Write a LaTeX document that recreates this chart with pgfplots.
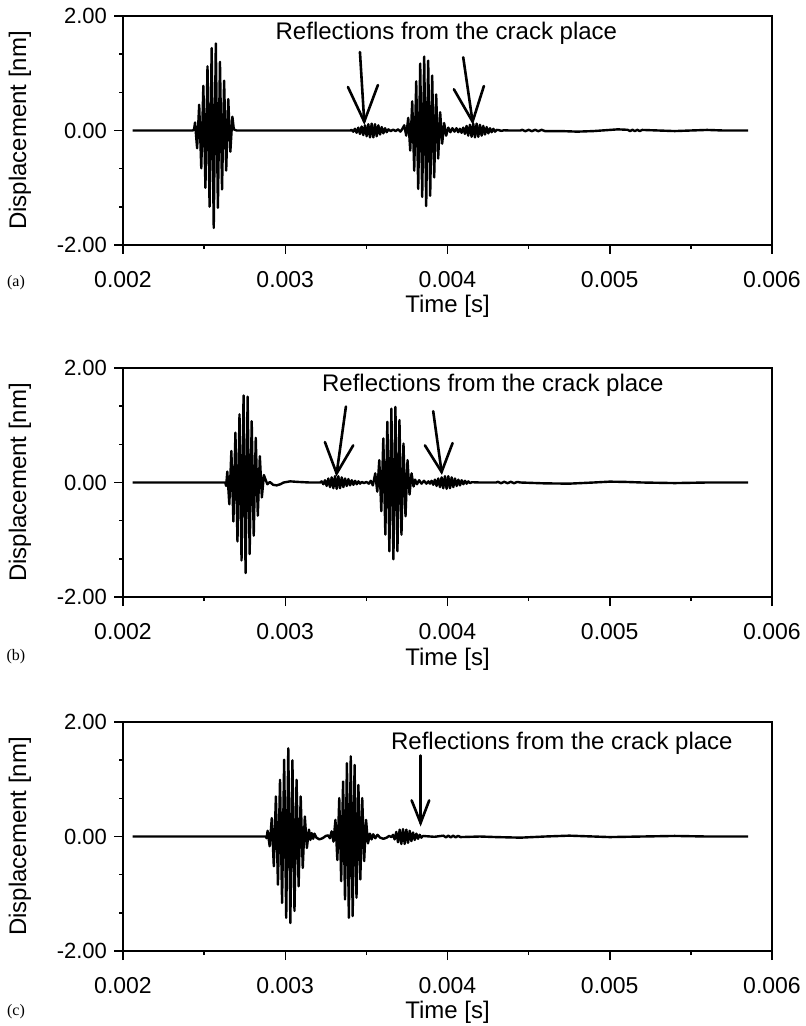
\documentclass[border=0pt]{standalone}
\usepackage{fontspec}
\setmainfont{Liberation Sans}
\newfontfamily\panelfont{Liberation Serif}
\usepackage{pgfplots}
\pgfplotsset{compat=1.18}

\newcommand\labfont{\fontsize{12}{14}\selectfont}
\newcommand\xtfont{\fontsize{11.5}{13}\selectfont}
\newcommand\ytfont{\fontsize{11}{13}\selectfont}

\pgfplotsset{
  panel/.style={
    scale only axis, width=324.5pt, height=114.5pt,
    xmin=0.002, xmax=0.006, ymin=-2, ymax=2,
    xtick={0.002,0.003,0.004,0.005,0.006},
    xticklabels={0.002,0.003,0.004,0.005,0.006},
    minor xtick={0.0025,0.0035,0.0045,0.0055},
    ytick={-2,0,2}, yticklabels={-2.00,0.00,2.00},
    minor ytick={-1.3333,-0.6667,0.6667,1.3333},
    scaled x ticks=false, scaled y ticks=false,
    tick align=outside, xtick pos=left, ytick pos=left,
    major tick length=4.5pt, minor tick length=2pt,
    axis line style={line width=0.75pt},
    every tick/.style={black, line width=0.75pt},
    xticklabel style={font=\xtfont, yshift=-5pt},
    yticklabel style={font=\ytfont},
    clip=false,
  },
  sig/.style={black, line width=1.2pt, line join=round, mark=none},
}
\tikzset{arr/.style={black, line width=1.3pt, line cap=round}}

\begin{document}
\begin{tikzpicture}
% ---------- (a)
\begin{axis}[panel, name=pa, at={(0,0)}]
\addplot[sig] coordinates {
(0.002060,0) (0.002430,0) (0.002438,0.02)
(0.0024440,0.14) (0.0024568,-0.31) (0.0024696,0.45) (0.0024824,-0.66) (0.0024952,0.78)
(0.0025080,-1.00) (0.0025208,1.12) (0.0025336,-1.33) (0.0025464,1.44) (0.0025592,-1.70)
(0.0025720,1.52) (0.0025848,-1.35) (0.0025976,1.20) (0.0026104,-1.03) (0.0026232,0.87)
(0.0026360,-0.70) (0.0026488,0.55) (0.0026616,-0.37) (0.0026744,0.24)
(0.0026830,0.02) (0.0027000,0) (0.0034000,0)
(0.0034090,0.01) (0.0034193,-0.02) (0.0034296,0.03) (0.0034399,-0.04) (0.0034502,0.05)
(0.0034605,-0.06) (0.0034708,0.07) (0.0034811,-0.08) (0.0034914,0.09) (0.0035017,-0.10)
(0.0035120,0.11) (0.0035223,-0.12) (0.0035326,0.12) (0.0035429,-0.12) (0.0035532,0.11)
(0.0035635,-0.10) (0.0035738,0.09) (0.0035841,-0.07) (0.0035944,0.06) (0.0036047,-0.05)
(0.0036150,0.04) (0.0036253,-0.03) (0.0036356,0.02)
(0.003650,-0.01) (0.003665,0.015) (0.003680,-0.01) (0.003695,0.02) (0.003710,-0.02) (0.003722,0.03)
(0.0037334,0.09) (0.0037457,-0.09) (0.0037580,0.22) (0.0037703,-0.35) (0.0037826,0.51)
(0.0037949,-0.70) (0.0038072,0.86) (0.0038195,-1.02) (0.0038318,1.17) (0.0038441,-1.16)
(0.0038564,1.29) (0.0038687,-1.32) (0.0038810,1.22) (0.0038933,-1.14) (0.0039056,0.96)
(0.0039179,-0.82) (0.0039302,0.63) (0.0039425,-0.49) (0.0039548,0.32) (0.0039671,-0.23)
(0.0039794,0.13) (0.0039917,-0.09)
(0.004005,0.05) (0.004018,-0.03) (0.004030,0.04) (0.004043,-0.02) (0.004055,0.04) (0.004066,-0.03)
(0.0040764,0.03) (0.0040867,-0.04) (0.0040970,0.05) (0.0041073,-0.06) (0.0041176,0.08)
(0.0041279,-0.09) (0.0041382,0.10) (0.0041485,-0.11) (0.0041588,0.12) (0.0041691,-0.12)
(0.0041794,0.12) (0.0041897,-0.11) (0.0042000,0.10) (0.0042103,-0.09) (0.0042206,0.08)
(0.0042309,-0.07) (0.0042412,0.06) (0.0042515,-0.05) (0.0042618,0.04) (0.0042721,-0.03)
(0.0042824,0.03) (0.0042927,-0.02) (0.0043030,0.01)
(0.004315,0.008) (0.004330,-0.006) (0.004350,0.004) (0.004380,0) (0.004450,0)
(0.004460,0.012) (0.004480,-0.012) (0.004500,0.012) (0.004520,-0.012) (0.004540,0.012)
(0.004560,-0.012) (0.004580,0.012) (0.004600,-0.01) (0.004700,-0.01) (0.004800,-0.02)
(0.004900,-0.01) (0.005000,0.01) (0.005050,0.02) (0.005110,0.012) (0.005125,-0.01)
(0.005140,0.012) (0.005155,-0.01) (0.005170,0.012) (0.005185,-0.01) (0.005200,0.01)
(0.005300,0) (0.005400,-0.01) (0.005500,0) (0.005600,0.01) (0.005700,0) (0.005853,0)
};
\node[font=\labfont] at (axis cs:0.0039932,1.70) {Reflections from the crack place};
\draw[arr] (axis cs:0.0034603,1.371) -- (axis cs:0.0034868,0.154);
\draw[arr] (axis cs:0.0033863,0.760) -- (axis cs:0.0034868,0.154) -- (axis cs:0.0035712,0.795);
\draw[arr] (axis cs:0.0040968,1.279) -- (axis cs:0.0041546,0.154);
\draw[arr] (axis cs:0.0040394,0.720) -- (axis cs:0.0041546,0.154) -- (axis cs:0.0042243,0.777);
\end{axis}
\node[rotate=90,font=\labfont] at ([xshift=-51.5pt]pa.west) {Displacement [nm]};
\node[font=\labfont] at ([yshift=-30.5pt]pa.south) {Time [s]};
\node[font=\panelfont\fontsize{8}{10}\selectfont] at ([xshift=-53.5pt,yshift=-19pt]pa.south west) {(a)};

% ---------- (b)
\begin{axis}[panel, name=pb, at={(0,-176pt)}]
\addplot[sig] coordinates {
(0.002060,0) (0.002630,0) (0.0026360,-0.06)
(0.0026428,0.19) (0.0026553,-0.38) (0.0026679,0.55) (0.0026804,-0.68) (0.0026929,0.87)
(0.0027055,-1.03) (0.0027180,1.19) (0.0027305,-1.36) (0.0027430,1.52) (0.0027556,-1.58)
(0.0027681,1.50) (0.0027806,-1.25) (0.0027932,1.07) (0.0028057,-0.93) (0.0028182,0.78)
(0.0028308,-0.58) (0.0028433,0.46) (0.0028558,-0.26) (0.0028683,0.13)
(0.002880,0.04) (0.002890,-0.03) (0.002905,0.01) (0.002925,-0.04) (0.002947,-0.05)
(0.002970,-0.03) (0.002990,0) (0.003030,0.02) (0.003080,0.01) (0.003150,0) (0.003215,0)
(0.0032243,0.02) (0.0032346,-0.03) (0.0032449,0.04) (0.0032552,-0.06) (0.0032655,0.07)
(0.0032758,-0.08) (0.0032861,0.09) (0.0032964,-0.10) (0.0033067,0.11) (0.0033170,-0.11)
(0.0033273,0.11) (0.0033376,-0.10) (0.0033479,0.09) (0.0033582,-0.08) (0.0033685,0.07)
(0.0033788,-0.06) (0.0033891,0.06) (0.0033994,-0.05) (0.0034097,0.04) (0.0034200,-0.04)
(0.0034303,0.03) (0.0034406,-0.03) (0.0034509,0.02) (0.0034612,-0.02) (0.0034715,0.01)
(0.003485,-0.01) (0.003500,0.01) (0.003515,-0.02) (0.003527,0.03) (0.003540,-0.05)
(0.0035547,0.16) (0.0035671,-0.16) (0.0035796,0.39) (0.0035920,-0.50) (0.0036044,0.77)
(0.0036169,-0.91) (0.0036293,1.06) (0.0036417,-1.20) (0.0036541,1.29) (0.0036666,-1.34)
(0.0036790,1.32) (0.0036914,-1.20) (0.0037039,1.09) (0.0037163,-0.91) (0.0037287,0.68)
(0.0037412,-0.59) (0.0037536,0.39) (0.0037660,-0.21) (0.0037784,0.16) (0.0037909,-0.07)
(0.003800,0.05) (0.003812,-0.03) (0.003825,0.04) (0.003840,-0.02) (0.003855,0.03)
(0.003870,-0.02) (0.003882,0.02)
(0.0038916,-0.02) (0.0039019,0.03) (0.0039122,-0.04) (0.0039225,0.05) (0.0039328,-0.06)
(0.0039431,0.07) (0.0039534,-0.08) (0.0039637,0.09) (0.0039740,-0.10) (0.0039843,0.11)
(0.0039946,-0.11) (0.0040049,0.11) (0.0040152,-0.10) (0.0040255,0.09) (0.0040358,-0.08)
(0.0040461,0.07) (0.0040564,-0.06) (0.0040667,0.05) (0.0040770,-0.05) (0.0040873,0.04)
(0.0040976,-0.03) (0.0041079,0.03) (0.0041182,-0.02) (0.0041285,0.02) (0.0041388,-0.01)
(0.004150,0.005) (0.004200,0) (0.004300,0)
(0.004310,0.012) (0.004330,-0.012) (0.004350,0.012) (0.004370,-0.012) (0.004390,0.012)
(0.004410,-0.012) (0.004430,0.01) (0.004450,0) (0.004600,-0.015) (0.004750,-0.02)
(0.004900,0) (0.005000,0.015) (0.005100,0.01) (0.005200,0) (0.005400,-0.01)
(0.005600,0) (0.005853,0)
};
\node[font=\labfont] at (axis cs:0.0042797,1.69) {Reflections from the crack place};
\draw[arr] (axis cs:0.0033740,1.327) -- (axis cs:0.0033167,0.157);
\draw[arr] (axis cs:0.0032446,0.706) -- (axis cs:0.0033167,0.157) -- (axis cs:0.0034190,0.649);
\draw[arr] (axis cs:0.0039119,1.245) -- (axis cs:0.0039636,0.184);
\draw[arr] (axis cs:0.0038607,0.649) -- (axis cs:0.0039636,0.184) -- (axis cs:0.0040314,0.689);
\end{axis}
\node[rotate=90,font=\labfont] at ([xshift=-51.5pt]pb.west) {Displacement [nm]};
\node[font=\labfont] at ([yshift=-31pt]pb.south) {Time [s]};
\node[font=\panelfont\fontsize{8}{10}\selectfont] at ([xshift=-53.5pt,yshift=-30pt]pb.south west) {(b)};

% ---------- (c)
\begin{axis}[panel, name=pc, at={(0,-353pt)}]
\addplot[sig] coordinates {
(0.002060,0) (0.002880,0) (0.0028850,-0.03)
(0.0028913,0.10) (0.0029040,-0.17) (0.0029168,0.32) (0.0029295,-0.52) (0.0029423,0.70)
(0.0029550,-0.84) (0.0029677,0.99) (0.0029805,-1.16) (0.0029932,1.34) (0.0030060,-1.42)
(0.0030187,1.54) (0.0030314,-1.51) (0.0030442,1.33) (0.0030569,-1.30) (0.0030697,0.99)
(0.0030824,-0.87) (0.0030951,0.70) (0.0031079,-0.55) (0.0031206,0.35) (0.0031334,-0.20)
(0.0031461,0.12)
(0.003155,-0.06) (0.003163,0.06) (0.003172,-0.04) (0.003180,0.05) (0.003192,-0.02)
(0.003210,-0.05) (0.003230,-0.03) (0.003250,0.01) (0.003265,0.02) (0.003275,-0.03)
(0.0032857,0.09) (0.0032975,-0.09) (0.0033093,0.29) (0.0033211,-0.41) (0.0033329,0.67)
(0.0033447,-0.78) (0.0033565,0.96) (0.0033683,-1.10) (0.0033801,1.28) (0.0033919,-1.42)
(0.0034037,1.40) (0.0034155,-1.39) (0.0034273,1.25) (0.0034391,-1.07) (0.0034509,0.90)
(0.0034627,-0.75) (0.0034745,0.67) (0.0034863,-0.43) (0.0034981,0.29) (0.0035099,-0.12)
(0.0035217,0.05)
(0.003532,-0.05) (0.003542,0.04) (0.003555,-0.03) (0.003568,0.03) (0.003585,-0.02)
(0.003605,-0.04) (0.003625,-0.02) (0.003640,0.01) (0.003655,-0.01)
(0.0036640,0.03) (0.0036743,-0.05) (0.0036846,0.08) (0.0036949,-0.10) (0.0037052,0.12)
(0.0037155,-0.13) (0.0037258,0.13) (0.0037361,-0.13) (0.0037464,0.12) (0.0037567,-0.11)
(0.0037670,0.10) (0.0037773,-0.08) (0.0037876,0.07) (0.0037979,-0.06) (0.0038082,0.05)
(0.0038185,-0.04) (0.0038288,0.03) (0.0038391,-0.02) (0.0038494,0.01)
(0.003870,0.005) (0.003920,-0.005) (0.003975,0.015) (0.003990,-0.015) (0.004005,0.015)
(0.004020,-0.015) (0.004035,0.015) (0.004050,-0.015) (0.004065,0.012) (0.004080,-0.01)
(0.004200,0) (0.004300,-0.01) (0.004450,-0.02) (0.004600,0) (0.004750,0.015)
(0.004900,0) (0.005000,-0.01) (0.005200,0) (0.005400,0.01) (0.005600,0) (0.005853,0)
};
\node[font=\labfont] at (axis cs:0.0047049,1.62) {Reflections from the crack place};
\draw[arr] (axis cs:0.0038343,1.414) -- (axis cs:0.0038343,0.237);
\draw[arr] (axis cs:0.0037788,0.631) -- (axis cs:0.0038343,0.237) -- (axis cs:0.0038873,0.631);
\end{axis}
\node[rotate=90,font=\labfont] at ([xshift=-51.5pt]pc.west) {Displacement [nm]};
\node[font=\labfont] at ([yshift=-30.5pt]pc.south) {Time [s]};
\node[font=\panelfont\fontsize{8}{10}\selectfont] at ([xshift=-53.5pt,yshift=-30.5pt]pc.south west) {(c)};

\pgfresetboundingbox
\path[use as bounding box] (-61.5pt,-390.5pt) rectangle (341pt,122.5pt);
\end{tikzpicture}
\end{document}
